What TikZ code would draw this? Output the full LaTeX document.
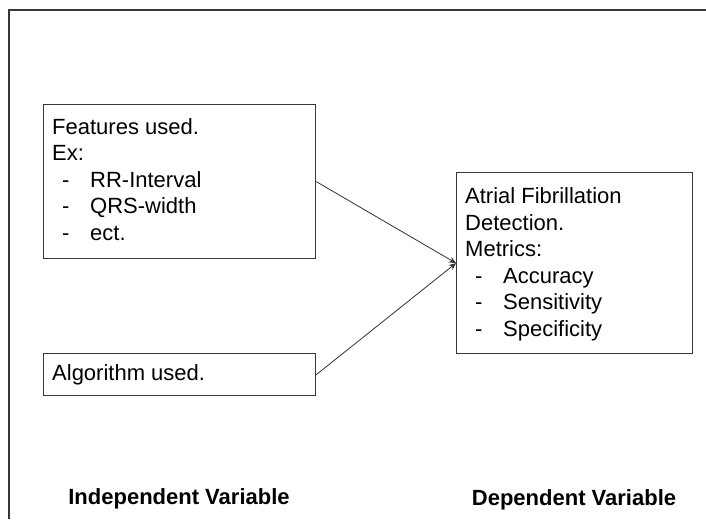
\documentclass[tikz,border=0pt]{standalone}
\usepackage{fontspec}
\setmainfont{Liberation Sans}
\usetikzlibrary{arrows.meta}
\tikzset{
  box/.style={draw=black!78, line width=1.3pt, rectangle, inner sep=0pt, anchor=north west},
  boxtext/.style={anchor=base west, inner sep=0pt, align=left, font=\fontsize{22}{26.5}\selectfont},
  label/.style={anchor=base, inner sep=0pt, font=\fontsize{22}{26.5}\selectfont\bfseries},
  conn/.style={draw=black!80, line width=0.8pt, -{Stealth[length=7pt,width=6pt]}},
  frame/.style={draw=black!78, line width=1.3pt}
}
\newcommand{\itm}[1]{\hspace*{10pt}\makebox[28pt][l]{-}#1}
\begin{document}
\begin{tikzpicture}[x=1pt,y=-1pt]
\useasboundingbox (0,0) rectangle (706,519);
\fill[white] (0,0) rectangle (706,519);
% frame lines
\coordinate (ftl) at (9,10);
\coordinate (ftr) at (706,10);
\coordinate (fbl) at (9,519);
\draw[frame] (fbl) -- (ftl) -- (ftr);
% boxes
\node[box, minimum width=272pt, minimum height=154pt] (feat) at (43,104) {};
\node[box, minimum width=272pt, minimum height=42pt] (alg) at (43,353) {};
\node[box, minimum width=236pt, minimum height=181pt] (atr) at (456,172) {};
% texts (anchored at the baseline of the last line)
\node[boxtext] (feattext) at (52,240) {Features used.\\Ex:\\\itm{RR-Interval}\\\itm{QRS-width}\\\itm{ect.}};
\node[boxtext] (algtext) at (52,380) {Algorithm used.};
\node[boxtext] (atrtext) at (465,336) {Atrial Fibrillation\\Detection.\\Metrics:\\\itm{Accuracy}\\\itm{Sensitivity}\\\itm{Specificity}};
% labels
\node[label] (indep) at (179,504) {Independent Variable};
\node[label] (dep) at (574,505) {Dependent Variable};
% connectors
\draw[conn] (feat.east) -- (atr.west);
\draw[conn] (alg.east) -- (atr.west);
\end{tikzpicture}
\end{document}
